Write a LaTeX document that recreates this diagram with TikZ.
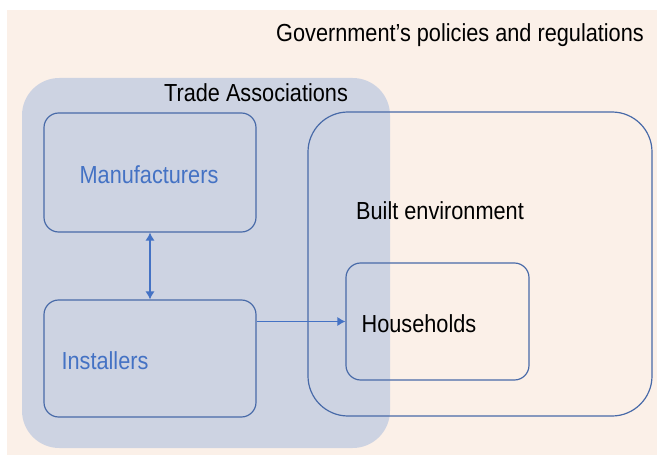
\documentclass[tikz,border=0pt]{standalone}
\usepackage{fontspec}
\setmainfont[FakeStretch=0.88]{Liberation Sans}
\usetikzlibrary{arrows.meta}
\definecolor{govbg}{RGB}{251,240,232}
\definecolor{tradefill}{RGB}{205,211,226}
\definecolor{boxline}{RGB}{72,106,168}
\definecolor{arrowblue}{RGB}{68,114,196}

\begin{document}
\begin{tikzpicture}[x=0.75pt, y=-0.75pt,
	box/.style={draw=boxline, line width=0.9pt, rounded corners=11pt, inner sep=0pt},
	lbl/.style={font=\fontsize{18.5}{20}\selectfont, inner sep=0pt},
	link/.style={draw=arrowblue, line width=1.1pt, -{Latex[length=6pt, width=7pt]}}]
	%%%%% START %%%%%
	
	\useasboundingbox (0, 0) rectangle (657, 456);
	\fill[govbg] (7, 10) rectangle (657, 455);
	\node[lbl, anchor=base] (gov) at (460, 42) {Government's policies and regulations};
	
	% trade associations
	\node[fill=tradefill, rounded corners=28pt, minimum width=276pt, minimum height=277.5pt, inner sep=0pt] (trade) at (206, 263) {};
	\node[lbl, anchor=base] (tradelbl) at (256, 102) {Trade Associations};
	
	\node[box, minimum width=159pt, minimum height=89.25pt] (manu) at (150, 172.5) {};
	\node[lbl, text=arrowblue] (manulbl) at (149, 175) {Manufacturers};
	
	\node[box, minimum width=159pt, minimum height=87.75pt] (inst) at (150, 358.5) {};
	\node[lbl, text=arrowblue] (instlbl) at (105, 361) {Installers};
	
	% built environment
	\node[box, rounded corners=30pt, minimum width=258pt, minimum height=228pt] (built) at (480, 264) {};
	\node[lbl] (builtlbl) at (440, 211) {Built environment};
	
	\node[box, minimum width=137.25pt, minimum height=87.75pt] (house) at (437.5, 321.5) {};
	\node[lbl] (houselbl) at (419, 324) {Households};
	
	\draw[link, {Latex[length=6pt, width=7pt]}-{Latex[length=6pt, width=7pt]}] (manu.south) -- (inst.north);
	\draw[link] (inst.east |- house.west) -- (house.west);
	
	%%%%% END %%%%%
\end{tikzpicture}
\end{document}
